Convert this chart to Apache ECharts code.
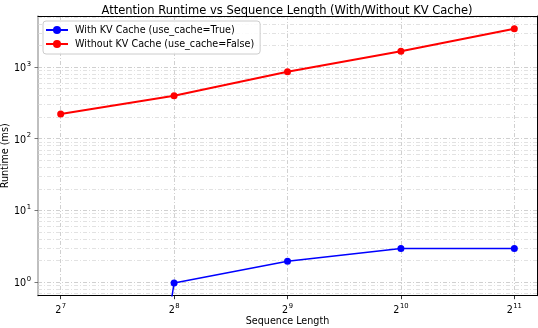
<!DOCTYPE html>
<html><head><meta charset="utf-8">
<script src="https://cdn.jsdelivr.net/npm/echarts@6/dist/echarts.min.js"></script>
<style>html,body{margin:0;padding:0;background:#fff}#c{width:538px;height:328px}</style>
</head><body><div id="c"></div>
<script>
// ---- data ----
const seqLens = [128, 256, 512, 1024, 2048];
const withCacheMs = [0, 0.97, 1.95, 2.94, 2.94];
const withoutCacheMs = [221, 398, 857, 1665, 3428];
const xTickValues = [128, 256, 512, 1024, 2048];
const yTickValues = [1, 10, 100, 1000];
const minorMultipliers = [2, 3, 4, 5, 6, 7, 8, 9];
const minorDecades = [0.1, 1, 10, 100, 1000];
const seriesNames = ['With KV Cache (use_cache=True)', 'Without KV Cache (use_cache=False)'];
const titleText = 'Attention Runtime vs Sequence Length (With/Without KV Cache)';
const xLabel = 'Sequence Length';
const yLabel = 'Runtime (ms)';

// axis limits (matplotlib-like 5% margins in log space)
const xMin = Math.pow(2, 6.8), xMax = Math.pow(2, 11.2);
const yMin = 0.645, yMax = 5150;
// matplotlib clips non-positive values on log axes to a tiny positive number
const LOG_FLOOR = 1e-10;

const FONT = 'DejaVu Sans';
const minorGrid = [];
minorDecades.forEach(d => minorMultipliers.forEach(m => {
  const v = d * m;
  if (v > yMin && v < yMax) minorGrid.push(v);
}));

const gridStyle = { type: [4, 2, 1, 2], color: '#c4c4c4', width: 0.8 };
const minorGridStyle = { type: [4, 2, 1, 2], color: '#d6d6d6', width: 0.7 };
const supRich = {
  b: { fontSize: 9.6, fontFamily: FONT, color: '#000', lineHeight: 13, verticalAlign: 'bottom' },
  s: { fontSize: 6.8, fontFamily: FONT, color: '#000', lineHeight: 13, verticalAlign: 'top', padding: [0, 0, 0, 0.5] }
};

const chart = echarts.init(document.getElementById('c'), null, { renderer: 'canvas' });
chart.setOption({
  animation: false,
  backgroundColor: '#fff',
  title: {
    text: titleText, left: 282, top: 0, textAlign: 'center',
    textStyle: { fontFamily: FONT, fontSize: 11.5, fontWeight: 'normal', color: '#000' }
  },
  legend: {
    orient: 'vertical', left: 43, top: 21,
    padding: [4, 6, 5, 2], itemGap: 4, itemWidth: 22, itemHeight: 10,
    backgroundColor: 'rgba(255,255,255,0.85)', borderColor: '#cccccc', borderWidth: 1, borderRadius: 3,
    textStyle: { fontFamily: FONT, fontSize: 9.6, color: '#000', padding: [0, 0, 0, 2] },
    data: seriesNames
  },
  grid: { left: 38, right: 1, top: 16, bottom: 32.3, outerBoundsMode: 'none', containLabel: false },
  xAxis: [{
    type: 'log', logBase: 2, min: xMin, max: xMax, interval: 1,
    name: xLabel, nameLocation: 'middle', nameGap: 21, nameMoveOverlap: false,
    nameTextStyle: { fontFamily: FONT, fontSize: 9.6, color: '#000' },
    axisLine: { show: true, lineStyle: { color: '#000', width: 1 } },
    axisTick: { show: true, length: 3.5, lineStyle: { color: '#000', width: 0.8 }, customValues: xTickValues },
    axisLabel: {
      margin: 7, customValues: xTickValues,
      formatter: v => '{b|2}{s|' + Math.round(Math.log2(v)) + '}', rich: supRich
    },
    splitLine: { show: true, lineStyle: gridStyle },
    minorTick: { show: false }, minorSplitLine: { show: false }
  }, {
    type: 'value', position: 'top', min: 0, max: 1,
    axisLine: { show: true, onZero: false, lineStyle: { color: '#000', width: 1 } },
    axisTick: { show: false }, axisLabel: { show: false }, splitLine: { show: false }
  }],
  yAxis: [{
    type: 'log', logBase: 10, min: yMin, max: yMax, interval: 1,
    name: yLabel, nameLocation: 'middle', nameGap: 28, nameRotate: 90, nameMoveOverlap: false,
    nameTextStyle: { fontFamily: FONT, fontSize: 9.6, color: '#000' },
    axisLine: { show: true, lineStyle: { color: '#aaa', width: 1.5 } },
    axisTick: { show: true, length: 3.5, lineStyle: { color: '#555', width: 0.8 }, customValues: yTickValues },
    axisLabel: {
      margin: 7, customValues: yTickValues,
      formatter: v => '{b|10}{s|' + Math.round(Math.log10(v)) + '}', rich: supRich
    },
    splitLine: { show: true, lineStyle: gridStyle }
  }, {
    type: 'value', position: 'right', min: 0, max: 1,
    axisLine: { show: true, onZero: false, lineStyle: { color: '#000', width: 1 } },
    axisTick: { show: false }, axisLabel: { show: false }, splitLine: { show: false }
  }],
  series: [{
    name: seriesNames[0], type: 'line', clip: true, z: 3,
    data: seqLens.map((x, i) => [x, withCacheMs[i] > 0 ? withCacheMs[i] : LOG_FLOOR]),
    color: '#0000ff', symbol: 'circle', symbolSize: 7, showSymbol: true,
    lineStyle: { width: 1.5, color: '#0000ff' }, itemStyle: { color: '#0000ff' }
  }, {
    name: seriesNames[1], type: 'line', clip: true, z: 3,
    data: seqLens.map((x, i) => [x, withoutCacheMs[i]]),
    color: '#ff0000', symbol: 'circle', symbolSize: 7, showSymbol: true,
    lineStyle: { width: 2, color: '#ff0000' }, itemStyle: { color: '#ff0000' },
    markLine: {
      silent: true, symbol: 'none', z: 1, animation: false,
      label: { show: false }, lineStyle: minorGridStyle,
      emphasis: { disabled: true },
      data: minorGrid.map(v => ({ yAxis: v }))
    }
  }]
});
</script></body></html>
